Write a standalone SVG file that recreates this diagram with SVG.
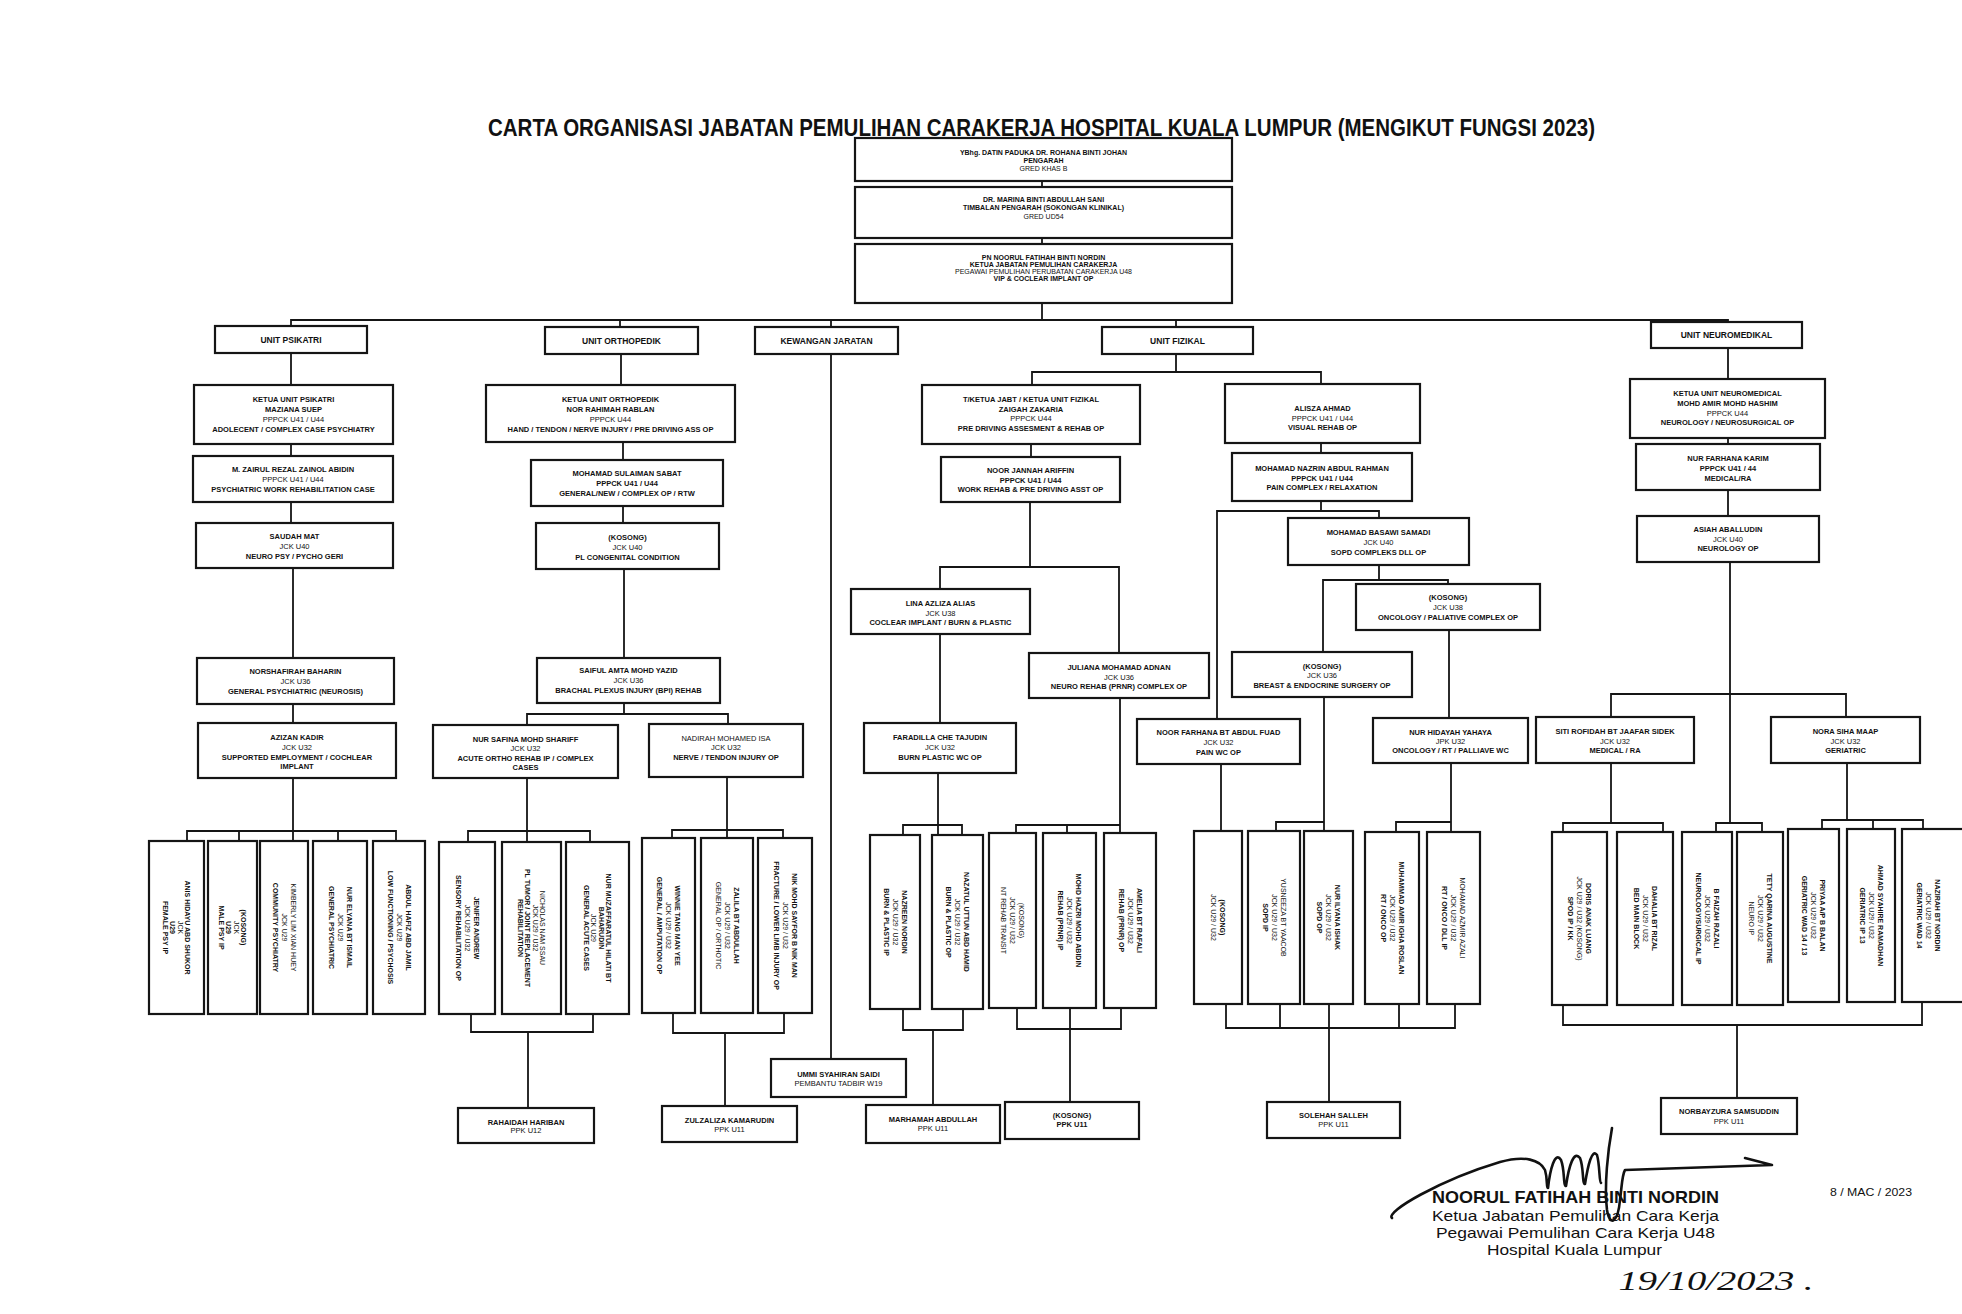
<svg xmlns="http://www.w3.org/2000/svg" width="1962" height="1314" viewBox="0 0 1962 1314">
<style>
.b{fill:#fff;stroke:#151515;stroke-width:2.2}
.c{fill:none;stroke:#151515;stroke-width:1.8}
text{font-family:'Liberation Sans',Arial,Helvetica,sans-serif;fill:#111;text-anchor:middle;font-weight:bold}
.s{font-size:7.5px}
.tp{font-size:7px}
.v{font-size:7px}
.u{font-size:8.5px}
.n{font-weight:normal}
.sig{stroke:#111;stroke-width:2.6;fill:none;stroke-linecap:round;stroke-linejoin:round}
</style>
<rect width="1962" height="1314" fill="#fff"/>
<text x="1041.5" y="136" font-size="24" textLength="1107" lengthAdjust="spacingAndGlyphs">CARTA ORGANISASI JABATAN PEMULIHAN CARAKERJA HOSPITAL KUALA LUMPUR (MENGIKUT FUNGSI 2023)</text>

<g id="connectors" class="c">
<path d="M1042,181V187M1042,238V244M1042,303V320"/>
<path d="M291,326V320H1728V322M620,320V327M831,320V327M831,354V1059M1176,320V327"/>
<path d="M291,353V385M291,444V456M291,502V523M293,568V658M293,704V723M293,778V840M187,840V831H396V840M239,831V840M338,831V840"/>
<path d="M621,354V385M623,442V460M623,506V523M624,569V658M624,703V714M527,725V714H728V724"/>
<path d="M527,778V842M468,842V831H590V842M471,1014V1032H593V1014M528,1032V1108"/>
<path d="M727,777V838M672,838V830H783V838M673,1013V1033H784V1013M725,1033V1106"/>
<path d="M1176,354V372M1032,385V372H1321V384M1031,444V457M1030,502V567M940,589V567H1119V653"/>
<path d="M940,634V723M938,773V835M903,835V825H962V835M903,1009V1030H963V1009M933,1030V1105"/>
<path d="M1120,698V833M1016,833V825H1120M1067,825V833M1017,1008V1029H1121V1008M1070,1008V1102"/>
<path d="M1321,443V453M1321,501V511M1217,719V511H1379V518M1379,565V580M1323,652V580H1448V584M1449,630V718"/>
<path d="M1324,697V831M1276,831V822H1324M1221,764V831M1451,763V832M1396,832V822H1451"/>
<path d="M1226,1004V1028H1455V1004M1280,1004V1028M1329,1004V1102M1399,1004V1028"/>
<path d="M1728,348V379M1728,438V444M1728,490V516M1730,562V823M1611,717V694H1846V717"/>
<path d="M1611,763V823M1563,832V823H1663V832M1716,832V823H1762V832"/>
<path d="M1847,763V820M1822,829V820H1923V829M1873,820V829M1563,1005V1025H1922V1002M1737,1025V1098"/>
</g>

<g id="n-pengarah"><rect class="b" x="855" y="138" width="377" height="43"/><text class="tp"><tspan x="1043.5" y="154.5">YBhg. DATIN PADUKA DR. ROHANA BINTI JOHAN</tspan><tspan x="1043.5" y="162.5">PENGARAH</tspan><tspan x="1043.5" y="170.5" class="n">GRED KHAS B</tspan></text></g>
<g id="n-timbalan"><rect class="b" x="855" y="187" width="377" height="51"/><text class="tp"><tspan x="1043.5" y="201.5">DR. MARINA BINTI ABDULLAH SANI</tspan><tspan x="1043.5" y="210">TIMBALAN PENGARAH (SOKONGAN KLINIKAL)</tspan><tspan x="1043.5" y="218.5" class="n">GRED UD54</tspan></text></g>
<g id="n-ketua-jabatan"><rect class="b" x="855" y="244" width="377" height="59"/><text class="tp"><tspan x="1043.5" y="259.5">PN NOORUL FATIHAH BINTI NORDIN</tspan><tspan x="1043.5" y="266.5">KETUA JABATAN PEMULIHAN CARAKERJA</tspan><tspan x="1043.5" y="273.5" class="n">PEGAWAI PEMULIHAN PERUBATAN CARAKERJA U48</tspan><tspan x="1043.5" y="280.5">VIP &amp; COCLEAR IMPLANT OP</tspan></text></g>

<g id="n-unit-psikatri"><rect class="b" x="215" y="326" width="152" height="27"/><text class="u" x="291" y="342.5">UNIT PSIKATRI</text></g>
<g id="n-unit-ortho"><rect class="b" x="545" y="327" width="153" height="27"/><text class="u" x="621.5" y="343.5">UNIT ORTHOPEDIK</text></g>
<g id="n-kewangan"><rect class="b" x="755" y="327" width="143" height="27"/><text class="u" x="826.5" y="343.5">KEWANGAN JARATAN</text></g>
<g id="n-unit-fizikal"><rect class="b" x="1102" y="327" width="151" height="27"/><text class="u" x="1177.5" y="343.5">UNIT FIZIKAL</text></g>
<g id="n-unit-neuro"><rect class="b" x="1651" y="322" width="151" height="26"/><text class="u" x="1726.5" y="338">UNIT NEUROMEDIKAL</text></g>

<g id="n-ketua-psik"><rect class="b" x="194" y="385" width="199" height="59"/><text class="s"><tspan x="293.5" y="402">KETUA UNIT PSIKATRI</tspan><tspan x="293.5" y="412">MAZIANA SUEP</tspan><tspan x="293.5" y="422" class="n">PPPCK U41 / U44</tspan><tspan x="293.5" y="432">ADOLECENT / COMPLEX CASE PSYCHIATRY</tspan></text></g>
<g id="n-zairul"><rect class="b" x="193" y="456" width="200" height="46"/><text class="s"><tspan x="293" y="471.5">M. ZAIRUL REZAL ZAINOL ABIDIN</tspan><tspan x="293" y="481.5" class="n">PPPCK U41 / U44</tspan><tspan x="293" y="491.5">PSYCHIATRIC WORK REHABILITATION CASE</tspan></text></g>
<g id="n-saudah"><rect class="b" x="196" y="523" width="197" height="45"/><text class="s"><tspan x="294.5" y="538.5">SAUDAH MAT</tspan><tspan x="294.5" y="548.5" class="n">JCK U40</tspan><tspan x="294.5" y="558.5">NEURO PSY / PYCHO GERI</tspan></text></g>
<g id="n-norshafirah"><rect class="b" x="197" y="658" width="197" height="46"/><text class="s"><tspan x="295.5" y="673.5">NORSHAFIRAH BAHARIN</tspan><tspan x="295.5" y="683.5" class="n">JCK U36</tspan><tspan x="295.5" y="693.5">GENERAL PSYCHIATRIC (NEUROSIS)</tspan></text></g>
<g id="n-azizan"><rect class="b" x="198" y="723" width="198" height="55"/><text class="s"><tspan x="297" y="739.5">AZIZAN KADIR</tspan><tspan x="297" y="749.5" class="n">JCK U32</tspan><tspan x="297" y="759.5">SUPPORTED EMPLOYMENT / COCHLEAR</tspan><tspan x="297" y="768.5">IMPLANT</tspan></text></g>

<g id="n-ketua-ortho"><rect class="b" x="486" y="385" width="249" height="57"/><text class="s"><tspan x="610.5" y="401.5">KETUA UNIT ORTHOPEDIK</tspan><tspan x="610.5" y="411.5">NOR RAHIMAH RABLAN</tspan><tspan x="610.5" y="421.5" class="n">PPPCK U44</tspan><tspan x="610.5" y="431.5">HAND / TENDON / NERVE INJURY / PRE DRIVING ASS OP</tspan></text></g>
<g id="n-sulaiman"><rect class="b" x="531" y="460" width="192" height="46"/><text class="s"><tspan x="627" y="476">MOHAMAD SULAIMAN SABAT</tspan><tspan x="627" y="485.5">PPPCK U41 / U44</tspan><tspan x="627" y="495.5">GENERAL/NEW / COMPLEX OP / RTW</tspan></text></g>
<g id="n-kosong-ortho"><rect class="b" x="536" y="523" width="183" height="46"/><text class="s"><tspan x="627.5" y="539.5">(KOSONG)</tspan><tspan x="627.5" y="549.5" class="n">JCK U40</tspan><tspan x="627.5" y="559.5">PL CONGENITAL CONDITION</tspan></text></g>
<g id="n-saiful"><rect class="b" x="537" y="658" width="183" height="45"/><text class="s"><tspan x="628.5" y="673">SAIFUL AMTA MOHD YAZID</tspan><tspan x="628.5" y="683" class="n">JCK U36</tspan><tspan x="628.5" y="693">BRACHAL PLEXUS INJURY (BPI) REHAB</tspan></text></g>
<g id="n-safina"><rect class="b" x="433" y="725" width="185" height="53"/><text class="s"><tspan x="525.5" y="741.5">NUR SAFINA MOHD SHARIFF</tspan><tspan x="525.5" y="751" class="n">JCK U32</tspan><tspan x="525.5" y="760.5">ACUTE ORTHO REHAB IP / COMPLEX</tspan><tspan x="525.5" y="770">CASES</tspan></text></g>
<g id="n-nadirah"><rect class="b" x="649" y="724" width="154" height="53"/><text class="s"><tspan x="726" y="740.5" class="n">NADIRAH MOHAMED ISA</tspan><tspan x="726" y="750" class="n">JCK U32</tspan><tspan x="726" y="759.5">NERVE / TENDON INJURY OP</tspan></text></g>

<g id="n-tiketua"><rect class="b" x="922" y="385" width="218" height="59"/><text class="s"><tspan x="1031" y="401.5">T/KETUA JABT / KETUA UNIT FIZIKAL</tspan><tspan x="1031" y="411.5">ZAIGAH ZAKARIA</tspan><tspan x="1031" y="421" class="n">PPPCK U44</tspan><tspan x="1031" y="430.5">PRE DRIVING ASSESMENT &amp; REHAB OP</tspan></text></g>
<g id="n-alisza"><rect class="b" x="1225" y="384" width="195" height="59"/><text class="s"><tspan x="1322.5" y="410.5">ALISZA AHMAD</tspan><tspan x="1322.5" y="420.5" class="n">PPPCK U41 / U44</tspan><tspan x="1322.5" y="430">VISUAL REHAB OP</tspan></text></g>
<g id="n-noorjannah"><rect class="b" x="941" y="457" width="179" height="45"/><text class="s"><tspan x="1030.5" y="472.5">NOOR JANNAH ARIFFIN</tspan><tspan x="1030.5" y="482.5">PPPCK U41 / U44</tspan><tspan x="1030.5" y="492">WORK REHAB &amp; PRE DRIVING ASST OP</tspan></text></g>
<g id="n-nazrin"><rect class="b" x="1232" y="453" width="180" height="48"/><text class="s"><tspan x="1322" y="470.5">MOHAMAD NAZRIN ABDUL RAHMAN</tspan><tspan x="1322" y="480.5">PPPCK U41 / U44</tspan><tspan x="1322" y="490">PAIN COMPLEX / RELAXATION</tspan></text></g>
<g id="n-basawi"><rect class="b" x="1288" y="518" width="181" height="47"/><text class="s"><tspan x="1378.5" y="534.5">MOHAMAD BASAWI SAMADI</tspan><tspan x="1378.5" y="544.5" class="n">JCK U40</tspan><tspan x="1378.5" y="554.5">SOPD COMPLEKS DLL OP</tspan></text></g>
<g id="n-kosong-onco"><rect class="b" x="1356" y="584" width="184" height="46"/><text class="s"><tspan x="1448" y="599.5">(KOSONG)</tspan><tspan x="1448" y="609.5" class="n">JCK U38</tspan><tspan x="1448" y="619.5">ONCOLOGY / PALIATIVE COMPLEX OP</tspan></text></g>
<g id="n-lina"><rect class="b" x="851" y="589" width="179" height="45"/><text class="s"><tspan x="940.5" y="605.5">LINA AZLIZA ALIAS</tspan><tspan x="940.5" y="615.5" class="n">JCK U38</tspan><tspan x="940.5" y="624.5">COCLEAR IMPLANT / BURN &amp; PLASTIC</tspan></text></g>
<g id="n-juliana"><rect class="b" x="1029" y="653" width="180" height="45"/><text class="s"><tspan x="1119" y="669.5">JULIANA MOHAMAD ADNAN</tspan><tspan x="1119" y="679.5" class="n">JCK U36</tspan><tspan x="1119" y="688.5">NEURO REHAB (PRNR) COMPLEX OP</tspan></text></g>
<g id="n-kosong-breast"><rect class="b" x="1232" y="652" width="180" height="45"/><text class="s"><tspan x="1322" y="668.5">(KOSONG)</tspan><tspan x="1322" y="678" class="n">JCK U36</tspan><tspan x="1322" y="687.5">BREAST &amp; ENDOCRINE SURGERY OP</tspan></text></g>
<g id="n-faradilla"><rect class="b" x="864" y="723" width="152" height="50"/><text class="s"><tspan x="940" y="739.5">FARADILLA CHE TAJUDIN</tspan><tspan x="940" y="749.5" class="n">JCK U32</tspan><tspan x="940" y="759.5">BURN PLASTIC WC OP</tspan></text></g>
<g id="n-noorfarhana"><rect class="b" x="1137" y="719" width="163" height="45"/><text class="s"><tspan x="1218.5" y="734.5">NOOR FARHANA BT ABDUL FUAD</tspan><tspan x="1218.5" y="744.5" class="n">JCK U32</tspan><tspan x="1218.5" y="754.5">PAIN WC OP</tspan></text></g>
<g id="n-nurhidayah"><rect class="b" x="1373" y="718" width="155" height="45"/><text class="s"><tspan x="1450.5" y="734.5">NUR HIDAYAH YAHAYA</tspan><tspan x="1450.5" y="743.5" class="n">JPK U32</tspan><tspan x="1450.5" y="752.5">ONCOLOGY / RT / PALLIAVE WC</tspan></text></g>
<g id="n-siti"><rect class="b" x="1536" y="717" width="158" height="46"/><text class="s"><tspan x="1615" y="733.5">SITI ROFIDAH BT JAAFAR SIDEK</tspan><tspan x="1615" y="743.5" class="n">JCK U32</tspan><tspan x="1615" y="752.5">MEDICAL / RA</tspan></text></g>
<g id="n-nora"><rect class="b" x="1771" y="717" width="149" height="46"/><text class="s"><tspan x="1845.5" y="733.5">NORA SIHA MAAP</tspan><tspan x="1845.5" y="743.5" class="n">JCK U32</tspan><tspan x="1845.5" y="752.5">GERIATRIC</tspan></text></g>

<g id="n-ketua-neuro"><rect class="b" x="1630" y="379" width="195" height="59"/><text class="s"><tspan x="1727.5" y="395.5">KETUA UNIT NEUROMEDICAL</tspan><tspan x="1727.5" y="405.5">MOHD AMIR MOHD HASHIM</tspan><tspan x="1727.5" y="415.5" class="n">PPPCK U44</tspan><tspan x="1727.5" y="424.5">NEUROLOGY / NEUROSURGICAL OP</tspan></text></g>
<g id="n-nurfarhanakarim"><rect class="b" x="1636" y="444" width="184" height="46"/><text class="s"><tspan x="1728" y="460.5">NUR FARHANA KARIM</tspan><tspan x="1728" y="470.5">PPPCK U41 / 44</tspan><tspan x="1728" y="480.5">MEDICAL/RA</tspan></text></g>
<g id="n-asiah"><rect class="b" x="1637" y="516" width="182" height="46"/><text class="s"><tspan x="1728" y="531.5">ASIAH ABALLUDIN</tspan><tspan x="1728" y="541.5" class="n">JCK U40</tspan><tspan x="1728" y="550.5">NEUROLOGY OP</tspan></text></g>

<g id="n-p1"><rect class="b" x="149" y="841" width="55" height="173"/><text class="v" transform="translate(176.5,927.5) rotate(90)"><tspan x="0" y="-8.75">ANIS HIDAYU ABD SHUKOR</tspan><tspan x="0" y="-1.25" class="n">JCK</tspan><tspan x="0" y="6.25">U29</tspan><tspan x="0" y="13.75">FEMALE PSY IP</tspan></text></g>
<g id="n-p2"><rect class="b" x="208" y="841" width="49" height="173"/><text class="v" transform="translate(232.5,927.5) rotate(90)"><tspan x="0" y="-8.75">(KOSONG)</tspan><tspan x="0" y="-1.25" class="n">JCK</tspan><tspan x="0" y="6.25">U29</tspan><tspan x="0" y="13.75">MALE PSY IP</tspan></text></g>
<g id="n-p3"><rect class="b" x="260" y="841" width="48" height="173"/><text class="v" transform="translate(284,927.5) rotate(90)"><tspan x="0" y="-6.5" class="n">KIMBERLY LIM XIAN HUEY</tspan><tspan x="0" y="2.5" class="n">JCK U29</tspan><tspan x="0" y="11.5">COMMUNITY PSYCHIATRY</tspan></text></g>
<g id="n-p4"><rect class="b" x="313" y="841" width="54" height="173"/><text class="v" transform="translate(340,927.5) rotate(90)"><tspan x="0" y="-6.5">NUR ELYANA BT ISMAIL</tspan><tspan x="0" y="2.5" class="n">JCK U29</tspan><tspan x="0" y="11.5">GENERAL PSYCHIATRIC</tspan></text></g>
<g id="n-p5"><rect class="b" x="373" y="841" width="52" height="173"/><text class="v" transform="translate(399,927.5) rotate(90)"><tspan x="0" y="-6.5">ABDUL HAFIZ ABD JAMIL</tspan><tspan x="0" y="2.5" class="n">JCK U29</tspan><tspan x="0" y="11.5">LOW FUNCTIONING / PSYCHOSIS</tspan></text></g>

<g id="n-o1"><rect class="b" x="439" y="842" width="56" height="172"/><text class="v" transform="translate(467,928) rotate(90)"><tspan x="0" y="-6.5">JENIFER ANDREW</tspan><tspan x="0" y="2.5" class="n">JCK U29 / U32</tspan><tspan x="0" y="11.5">SENSORY REHABILITATION OP</tspan></text></g>
<g id="n-o2"><rect class="b" x="502" y="842" width="59" height="172"/><text class="v" transform="translate(531.5,928) rotate(90)"><tspan x="0" y="-8.75" class="n">NICHOLAS NAM SSAU</tspan><tspan x="0" y="-1.25" class="n">JCK U29 / U32</tspan><tspan x="0" y="6.25">PL TUMOR / JOINT REPLACEMENT</tspan><tspan x="0" y="13.75">REHABILITATION</tspan></text></g>
<g id="n-o3"><rect class="b" x="566" y="842" width="63" height="172"/><text class="v" transform="translate(597.5,928) rotate(90)"><tspan x="0" y="-8.75">NUR MUZAFFARATUL HILATI BT</tspan><tspan x="0" y="-1.25">BAHARUDIN</tspan><tspan x="0" y="6.25" class="n">JCK U29</tspan><tspan x="0" y="13.75">GENERAL ACUTE CASES</tspan></text></g>
<g id="n-o4"><rect class="b" x="642" y="838" width="53" height="175"/><text class="v" transform="translate(668.5,925.5) rotate(90)"><tspan x="0" y="-6.5">WINNIE TANG MAN YEE</tspan><tspan x="0" y="2.5" class="n">JCK U29 / U32</tspan><tspan x="0" y="11.5">GENERAL / AMPUTATION OP</tspan></text></g>
<g id="n-o5"><rect class="b" x="701" y="838" width="52" height="175"/><text class="v" transform="translate(727,925.5) rotate(90)"><tspan x="0" y="-6.5">ZALILA BT ABDULLAH</tspan><tspan x="0" y="2.5" class="n">JCK U29 / U32</tspan><tspan x="0" y="11.5" class="n">GENERAL OP / ORTHOTIC</tspan></text></g>
<g id="n-o6"><rect class="b" x="758" y="838" width="54" height="175"/><text class="v" transform="translate(785,925.5) rotate(90)"><tspan x="0" y="-6.5">NIK MOHD SAYFOR B NIK MAN</tspan><tspan x="0" y="2.5" class="n">JCK U29 / U32</tspan><tspan x="0" y="11.5">FRACTURE / LOWER LIMB INJURY OP</tspan></text></g>

<g id="n-f1"><rect class="b" x="870" y="835" width="50" height="174"/><text class="v" transform="translate(895,922) rotate(90)"><tspan x="0" y="-6.5">NAZREEN NORDIN</tspan><tspan x="0" y="2.5" class="n">JCK U29 / U32</tspan><tspan x="0" y="11.5">BURN &amp; PLASTIC IP</tspan></text></g>
<g id="n-f2"><rect class="b" x="932" y="835" width="51" height="174"/><text class="v" transform="translate(957.5,922) rotate(90)"><tspan x="0" y="-6.5">NAZATUL UTTUN ABD HAMID</tspan><tspan x="0" y="2.5" class="n">JCK U29 / U32</tspan><tspan x="0" y="11.5">BURN &amp; PLASTIC OP</tspan></text></g>
<g id="n-f3"><rect class="b" x="989" y="833" width="47" height="175"/><text class="v" transform="translate(1012.5,920.5) rotate(90)"><tspan x="0" y="-6.5" class="n">(KOSONG)</tspan><tspan x="0" y="2.5" class="n">JCK U29 / U32</tspan><tspan x="0" y="11.5" class="n">NT REHAB TRANSIT</tspan></text></g>
<g id="n-f4"><rect class="b" x="1043" y="833" width="53" height="175"/><text class="v" transform="translate(1069.5,920.5) rotate(90)"><tspan x="0" y="-6.5">MOHD HAZRI MOHD ABIDIN</tspan><tspan x="0" y="2.5" class="n">JCK U29 / U32</tspan><tspan x="0" y="11.5">REHAB (PRNR) IP</tspan></text></g>
<g id="n-f5"><rect class="b" x="1104" y="833" width="52" height="175"/><text class="v" transform="translate(1130,920.5) rotate(90)"><tspan x="0" y="-6.5">AMELIA BT RAFALI</tspan><tspan x="0" y="2.5" class="n">JCK U29 / U32</tspan><tspan x="0" y="11.5">REHAB (PRNR) OP</tspan></text></g>
<g id="n-f6"><rect class="b" x="1194" y="831" width="48" height="173"/><text class="v" transform="translate(1218,917.5) rotate(90)"><tspan x="0" y="-2">(KOSONG)</tspan><tspan x="0" y="7" class="n">JCK U29 / U32</tspan></text></g>
<g id="n-f7"><rect class="b" x="1248" y="831" width="52" height="173"/><text class="v" transform="translate(1274,917.5) rotate(90)"><tspan x="0" y="-6.5" class="n">YUSNEEZA BT YAACOB</tspan><tspan x="0" y="2.5" class="n">JCK U29 / U32</tspan><tspan x="0" y="11.5">SOPD IP</tspan></text></g>
<g id="n-f8"><rect class="b" x="1304" y="831" width="49" height="173"/><text class="v" transform="translate(1328.5,917.5) rotate(90)"><tspan x="0" y="-6.5">NUR ILYANA ISHAK</tspan><tspan x="0" y="2.5" class="n">JCK U29 / U32</tspan><tspan x="0" y="11.5">SOPD OP</tspan></text></g>
<g id="n-f9"><rect class="b" x="1365" y="832" width="54" height="172"/><text class="v" transform="translate(1392,918) rotate(90)"><tspan x="0" y="-6.5">MUHAMMAD AMIR IGHA ROSLAN</tspan><tspan x="0" y="2.5" class="n">JCK U29 / U32</tspan><tspan x="0" y="11.5">RT / ONCO OP</tspan></text></g>
<g id="n-f10"><rect class="b" x="1427" y="832" width="53" height="172"/><text class="v" transform="translate(1453.5,918) rotate(90)"><tspan x="0" y="-6.5" class="n">MOHAMAD AZMIR AZALI</tspan><tspan x="0" y="2.5" class="n">JCK U29 / U32</tspan><tspan x="0" y="11.5">RT / ONCO / DLL IP</tspan></text></g>

<g id="n-n1"><rect class="b" x="1552" y="832" width="55" height="173"/><text class="v" transform="translate(1579.5,918.5) rotate(90)"><tspan x="0" y="-6.5">DORIS ANAK LUANG</tspan><tspan x="0" y="2.5" class="n">JCK U29 / U32 (KOSONG)</tspan><tspan x="0" y="11.5">SPOD IP / KK</tspan></text></g>
<g id="n-n2"><rect class="b" x="1617" y="832" width="56" height="173"/><text class="v" transform="translate(1645,918.5) rotate(90)"><tspan x="0" y="-6.5">DAHALIA BT RIZAL</tspan><tspan x="0" y="2.5" class="n">JCK U29 / U32</tspan><tspan x="0" y="11.5">BED MAIN BLOCK</tspan></text></g>
<g id="n-n3"><rect class="b" x="1682" y="832" width="50" height="173"/><text class="v" transform="translate(1707,918.5) rotate(90)"><tspan x="0" y="-6.5">B FAIZAH RAZALI</tspan><tspan x="0" y="2.5" class="n">JCK U29 / U32</tspan><tspan x="0" y="11.5">NEUROLOGY/SURGICAL IP</tspan></text></g>
<g id="n-n4"><rect class="b" x="1737" y="832" width="46" height="173"/><text class="v" transform="translate(1760,918.5) rotate(90)"><tspan x="0" y="-6.5">TETY QARINA AUGUSTINE</tspan><tspan x="0" y="2.5" class="n">JCK U29 / U32</tspan><tspan x="0" y="11.5" class="n">NEURO IP</tspan></text></g>
<g id="n-n5"><rect class="b" x="1788" y="829" width="51" height="173"/><text class="v" transform="translate(1813.5,915.5) rotate(90)"><tspan x="0" y="-6.5">PRIYAA A/P B BALAN</tspan><tspan x="0" y="2.5" class="n">JCK U29 / U32</tspan><tspan x="0" y="11.5">GERIATRIC WAD 14 / 13</tspan></text></g>
<g id="n-n6"><rect class="b" x="1847" y="829" width="48" height="173"/><text class="v" transform="translate(1871,915.5) rotate(90)"><tspan x="0" y="-6.5">AHMAD SYAHIRE RAMADHAN</tspan><tspan x="0" y="2.5" class="n">JCK U29 / U32</tspan><tspan x="0" y="11.5">GERIATRIC IP 13</tspan></text></g>
<g id="n-n7"><rect class="b" x="1902" y="829" width="80" height="173"/><text class="v" transform="translate(1928,915.5) rotate(90)"><tspan x="0" y="-6.5">NAZIRAH BT NORDIN</tspan><tspan x="0" y="2.5" class="n">JCK U29 / U32</tspan><tspan x="0" y="11.5">GERIATRIC WAD 14</tspan></text></g>

<g id="n-rahaidah"><rect class="b" x="458" y="1108" width="136" height="35"/><text class="s"><tspan x="526" y="1124.5">RAHAIDAH HARIBAN</tspan><tspan x="526" y="1133" class="n">PPK U12</tspan></text></g>
<g id="n-zulzaliza"><rect class="b" x="662" y="1106" width="135" height="36"/><text class="s"><tspan x="729.5" y="1122.5">ZULZALIZA KAMARUDIN</tspan><tspan x="729.5" y="1131.5" class="n">PPK U11</tspan></text></g>
<g id="n-ummi"><rect class="b" x="771" y="1059" width="135" height="38"/><text class="s"><tspan x="838.5" y="1076.5">UMMI SYAHIRAN SAIDI</tspan><tspan x="838.5" y="1085.5" class="n">PEMBANTU TADBIR W19</tspan></text></g>
<g id="n-marhamah"><rect class="b" x="866" y="1105" width="134" height="38"/><text class="s"><tspan x="933" y="1121.5">MARHAMAH ABDULLAH</tspan><tspan x="933" y="1131" class="n">PPK U11</tspan></text></g>
<g id="n-kosong-ppk"><rect class="b" x="1005" y="1102" width="134" height="37"/><text class="s"><tspan x="1072" y="1117.5">(KOSONG)</tspan><tspan x="1072" y="1127">PPK U11</tspan></text></g>
<g id="n-solehah"><rect class="b" x="1267" y="1102" width="133" height="36"/><text class="s"><tspan x="1333.5" y="1117.5">SOLEHAH SALLEH</tspan><tspan x="1333.5" y="1127" class="n">PPK U11</tspan></text></g>
<g id="n-norbayzura"><rect class="b" x="1661" y="1098" width="136" height="36"/><text class="s"><tspan x="1729" y="1114">NORBAYZURA SAMSUDDIN</tspan><tspan x="1729" y="1123.5" class="n">PPK U11</tspan></text></g>

<g id="signature">
<path class="sig" d="M1392,1218C1385,1212 1440,1180 1500,1162C1525,1155 1540,1160 1545,1170C1548,1180 1546,1188 1548,1188C1550,1170 1555,1150 1561,1160C1565,1170 1563,1186 1566,1186C1569,1165 1574,1150 1580,1158C1584,1168 1582,1184 1585,1184C1588,1165 1592,1148 1597,1155C1600,1165 1599,1182 1601,1183"/>
<path class="sig" d="M1612,1128C1608,1150 1604,1185 1607,1210C1610,1228 1618,1222 1620,1200C1622,1185 1622,1175 1625,1170L1772,1165L1745,1158"/>
</g>
<g id="footer">
<text x="1575.5" y="1203" font-size="17" textLength="287" lengthAdjust="spacingAndGlyphs">NOORUL FATIHAH BINTI NORDIN</text>
<text x="1575.5" y="1221" font-size="15" style="font-weight:normal" textLength="287" lengthAdjust="spacingAndGlyphs">Ketua Jabatan Pemulihan Cara Kerja</text>
<text x="1575.5" y="1238" font-size="15" style="font-weight:normal" textLength="279" lengthAdjust="spacingAndGlyphs">Pegawai Pemulihan Cara Kerja U48</text>
<text x="1574.5" y="1255" font-size="15" style="font-weight:normal" textLength="175" lengthAdjust="spacingAndGlyphs">Hospital Kuala Lumpur</text>
<text x="1871" y="1196" font-size="11" style="font-weight:normal" textLength="82" lengthAdjust="spacingAndGlyphs">8 / MAC / 2023</text>
<text x="1716" y="1290" font-size="28" style="font-family:'Liberation Serif',serif;font-style:italic;font-weight:normal" textLength="195" lengthAdjust="spacingAndGlyphs">19/10/2023 .</text>
</g>
</svg>
